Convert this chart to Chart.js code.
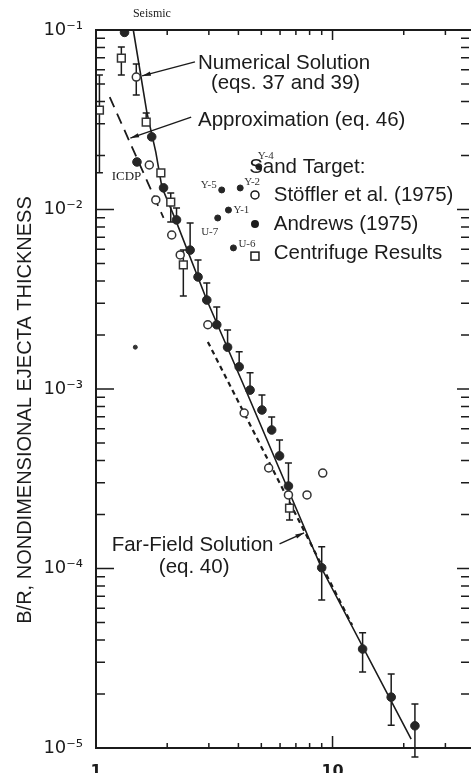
<!DOCTYPE html>
<html lang="en">
<head>
<meta charset="UTF-8">
<title>B/R, Nondimensional Ejecta Thickness</title>
<script src="https://cdn.jsdelivr.net/npm/chart.js"></script>
<style>
  html, body { margin: 0; padding: 0; background: #fff; }
  #wrap { width: 476px; height: 773px; position: relative; }
</style>
</head>
<body>
<div id="wrap"><canvas id="ejecta-chart"></canvas></div>
<script>
// Andrews (1975) - filled circles (upper error bars mostly)
var andrewsX  = [1.32, 1.49, 1.72, 1.93, 2.19, 2.50, 2.70, 2.94, 3.24, 3.60, 4.03, 4.48, 5.03, 5.53, 5.97, 6.51, 9.0, 13.4, 17.7, 22.3];
var andrewsY  = [0.097, 0.0184, 0.0254, 0.0132, 0.00875, 0.00594, 0.00421, 0.00313, 0.00228, 0.00171, 0.00133, 0.000986, 0.000764, 0.000591, 0.000424, 0.000288, 0.000101, 0.0000356, 0.0000192, 0.0000133];
var andrewsHi = [null, null, null, null, 0.0102, 0.00841, 0.00524, 0.0039, 0.00286, 0.00213, 0.00161, 0.00123, 0.000927, 0.000699, 0.00052, 0.000387, 0.000132, 0.0000438, 0.0000258, 0.0000176];
var andrewsLo = [null, null, null, null, null, null, null, null, null, null, null, null, null, null, null, null, 0.0000668, 0.0000265, 0.0000134, 0.0000089];

// labelled Andrews shots
var clusterNames = ['U-7', 'Y-5', 'Y-1', 'U-6', 'Y-2', 'Y-4'];
var clusterX = [3.27, 3.40, 3.63, 3.81, 4.07, 4.88];
var clusterY = [0.00897, 0.01285, 0.00993, 0.00611, 0.01318, 0.0173];

// Stoffler et al. (1975) - open circles
var stofflerX  = [1.48, 1.68, 1.79, 2.09, 2.27, 2.97, 4.23, 5.37, 6.51, 7.80, 9.09];
var stofflerY  = [0.0547, 0.0177, 0.0113, 0.00721, 0.00558, 0.00228, 0.000735, 0.000363, 0.000257, 0.000257, 0.00034];
var stofflerHi = [0.0647, null, null, null, null, null, null, null, null, null, null];
var stofflerLo = [0.0435, null, null, null, null, null, null, null, null, null, null];

// Centrifuge results - open squares
var centX  = [1.034, 1.28, 1.63, 1.88, 2.07, 2.34, 6.58];
var centY  = [0.0358, 0.0698, 0.0307, 0.016, 0.011, 0.00491, 0.000217];
var centHi = [0.0561, 0.0804, 0.0345, null, 0.01236, 0.00594, 0.000257];
var centLo = [0.016, 0.0561, null, null, 0.00851, 0.0033, 0.000186];

// stray mark
var strayX = [1.466];
var strayY = [0.00171];

// curves
var numX = [1.438, 1.64, 1.79, 1.90, 2.17, 2.94, 4.35, 9.0, 21.5];
var numY = [0.1, 0.0349, 0.0209, 0.0133, 0.00875, 0.00313, 0.00095, 0.0001, 0.0000112];
var farX = [2.97, 12.1];
var farY = [0.00183, 0.0000484];
var approxX = [1.143, 1.93];
var approxY = [0.0423, 0.00897];

var xTickLabels = {1: '1', 10: '10'};
var sup = {'-': '\u207B', '0': '\u2070', '1': '\u00B9', '2': '\u00B2', '3': '\u00B3', '4': '\u2074', '5': '\u2075'};

function pts(xs, ys) {
    return xs.map(function (x, i) { return {x: x, y: ys[i]}; });
}
function isDecade(v) {
    var l = Math.log10(v);
    return Math.abs(l - Math.round(l)) < 1e-6;
}

var INK = '#1b1b1b';
var SANS = '"Liberation Sans", Arial, sans-serif';
var SERIF = '"Liberation Serif", serif';
var NOTE = '20.5px ' + SANS;

// text notes, anchored in data coordinates
var notes = [
    {t: 'Numerical Solution', x: 2.70, y: 0.0655, font: NOTE},
    {t: '(eqs. 37 and 39)', x: 3.06, y: 0.0507, font: NOTE},
    {t: 'Approximation (eq. 46)', x: 2.70, y: 0.0315, font: NOTE},
    {t: 'Sand Target:', x: 4.44, y: 0.01725, font: NOTE},
    {t: 'Stöffler et al. (1975)', x: 5.64, y: 0.01205, font: NOTE},
    {t: 'Andrews (1975)', x: 5.64, y: 0.0083, font: NOTE},
    {t: 'Centrifuge Results', x: 5.64, y: 0.00573, font: NOTE},
    {t: 'Far-Field Solution', x: 1.165, y: 0.000135, font: NOTE},
    {t: '(eq. 40)', x: 1.843, y: 0.000102, font: NOTE},
    {t: 'ICDP', x: 1.165, y: 0.01517, font: '13px ' + SERIF},
    {t: 'Seismic', x: 1.724, y: 0.1227, font: '12px ' + SERIF, align: 'center'}
];
var arrows = [
    {from: [2.62, 0.0664], to: [1.566, 0.0555]},
    {from: [2.526, 0.0327], to: [1.397, 0.025]},
    {from: [5.97, 0.000137], to: [7.58, 0.000158]}
];
// label offsets in px for the labelled shots
var clusterOffsets = [[-8, 14, 'center'], [-5, -5, 'right'], [5, 0, 'left'], [5, -4, 'left'], [4, -6, 'left'], [-1, -11, 'left']];

var decor = {
    id: 'decor',
    beforeDatasetsDraw: function (chart) {
        var ctx = chart.ctx, sx = chart.scales.x, sy = chart.scales.y;
        function bars(xs, ys, his, los) {
            xs.forEach(function (x, i) {
                var X = sx.getPixelForValue(x), Y = sy.getPixelForValue(ys[i]);
                [his[i], los[i]].forEach(function (v) {
                    if (v == null) return;
                    var E = sy.getPixelForValue(v);
                    ctx.beginPath();
                    ctx.moveTo(X, Y); ctx.lineTo(X, E);
                    ctx.moveTo(X - 3.5, E); ctx.lineTo(X + 3.5, E);
                    ctx.stroke();
                });
            });
        }
        ctx.save();
        ctx.strokeStyle = INK;
        ctx.lineWidth = 1.5;
        bars(andrewsX, andrewsY, andrewsHi, andrewsLo);
        bars(stofflerX, stofflerY, stofflerHi, stofflerLo);
        bars(centX, centY, centHi, centLo);
        ctx.restore();
    },
    afterDraw: function (chart) {
        var ctx = chart.ctx, a = chart.chartArea, sx = chart.scales.x, sy = chart.scales.y;
        ctx.save();
        ctx.strokeStyle = INK;
        ctx.fillStyle = INK;

        // frame (right side is cropped in the original)
        ctx.lineWidth = 2;
        ctx.beginPath();
        ctx.moveTo(a.right + 2, a.top); ctx.lineTo(a.left, a.top);
        ctx.lineTo(a.left, a.bottom); ctx.lineTo(a.right + 2, a.bottom);
        ctx.stroke();

        // inward ticks
        ctx.lineWidth = 1.5;
        ctx.beginPath();
        for (var n = -5; n <= -1; n++) {
            for (var k = 1; k <= 9; k++) {
                var v = k * Math.pow(10, n);
                if (v > 0.1 + 1e-12) break;
                var Y = sy.getPixelForValue(v);
                var major = (k === 1);
                ctx.moveTo(a.left, Y); ctx.lineTo(a.left + (major ? 18 : 9), Y);
                ctx.moveTo(a.right, Y); ctx.lineTo(a.right - (major ? 12 : 8), Y);
            }
        }
        [2, 3, 4, 5, 6, 7, 8, 9, 10, 20, 30].forEach(function (x) {
            var X = sx.getPixelForValue(x);
            var len = (x === 10) ? 10 : 5;
            ctx.moveTo(X, a.top); ctx.lineTo(X, a.top + len);
            ctx.moveTo(X, a.bottom); ctx.lineTo(X, a.bottom - (x === 10 ? 12 : 5));
        });
        ctx.stroke();

        // leader arrows
        ctx.lineWidth = 1.4;
        arrows.forEach(function (ar) {
            var x0 = sx.getPixelForValue(ar.from[0]), y0 = sy.getPixelForValue(ar.from[1]);
            var x1 = sx.getPixelForValue(ar.to[0]), y1 = sy.getPixelForValue(ar.to[1]);
            ctx.beginPath(); ctx.moveTo(x0, y0); ctx.lineTo(x1, y1); ctx.stroke();
            var ang = Math.atan2(y1 - y0, x1 - x0);
            ctx.beginPath();
            ctx.moveTo(x1, y1);
            ctx.lineTo(x1 - 9 * Math.cos(ang - 0.25), y1 - 9 * Math.sin(ang - 0.25));
            ctx.lineTo(x1 - 9 * Math.cos(ang + 0.25), y1 - 9 * Math.sin(ang + 0.25));
            ctx.closePath(); ctx.fill();
        });

        // notes
        ctx.textBaseline = 'middle';
        notes.forEach(function (nt) {
            ctx.font = nt.font;
            ctx.textAlign = nt.align || 'left';
            ctx.fillText(nt.t, sx.getPixelForValue(nt.x), sy.getPixelForValue(nt.y));
        });

        // shot labels
        ctx.font = '11px ' + SERIF;
        ctx.fillStyle = '#333';
        clusterNames.forEach(function (name, i) {
            var o = clusterOffsets[i];
            ctx.textAlign = o[2];
            ctx.fillText(name, sx.getPixelForValue(clusterX[i]) + o[0], sy.getPixelForValue(clusterY[i]) + o[1]);
        });

        // legend symbols
        var lx = sx.getPixelForValue(4.70);
        ctx.lineWidth = 1.5;
        ctx.strokeStyle = INK;
        ctx.fillStyle = '#fff';
        ctx.beginPath(); ctx.arc(lx, sy.getPixelForValue(0.01205), 4, 0, Math.PI * 2); ctx.fill(); ctx.stroke();
        ctx.fillStyle = INK;
        ctx.beginPath(); ctx.arc(lx, sy.getPixelForValue(0.0083), 4, 0, Math.PI * 2); ctx.fill();
        var sqY = sy.getPixelForValue(0.0055);
        ctx.fillStyle = '#fff';
        ctx.fillRect(lx - 4, sqY - 4, 8, 8); ctx.strokeRect(lx - 4, sqY - 4, 8, 8);

        // y axis title
        ctx.fillStyle = INK;
        ctx.translate(25, 410);
        ctx.rotate(-Math.PI / 2);
        ctx.textAlign = 'center';
        ctx.font = '20px ' + SANS;
        ctx.fillText('B/R, NONDIMENSIONAL EJECTA THICKNESS', 0, 0);
        ctx.restore();
    }
};

var ctx = document.getElementById('ejecta-chart').getContext('2d');
var chart = new Chart(ctx, {
    type: 'scatter',
    data: {
        datasets: [
            {label: 'Stöffler et al. (1975)', data: pts(stofflerX, stofflerY), pointStyle: 'circle', pointRadius: 4,
             backgroundColor: '#fff', borderColor: '#333', borderWidth: 1.5},
            {label: 'Centrifuge Results', data: pts(centX, centY), pointStyle: 'rect', pointRadius: 5.5,
             backgroundColor: '#fff', borderColor: '#333', borderWidth: 1.5},
            {label: 'Andrews (1975)', data: pts(andrewsX, andrewsY), pointStyle: 'circle', pointRadius: 4.3,
             backgroundColor: '#262626', borderColor: '#262626', borderWidth: 1},
            {label: 'Andrews shots', data: pts(clusterX, clusterY), pointStyle: 'circle', pointRadius: 3,
             backgroundColor: '#262626', borderColor: '#262626', borderWidth: 1},
            {label: 'mark', data: pts(strayX, strayY), pointStyle: 'circle', pointRadius: 2,
             backgroundColor: '#333', borderColor: '#333'},
            {label: 'Numerical Solution', data: pts(numX, numY), showLine: true, pointRadius: 0,
             borderColor: INK, borderWidth: 1.6, tension: 0},
            {label: 'Approximation', data: pts(approxX, approxY), showLine: true, pointRadius: 0,
             borderColor: INK, borderWidth: 1.8, borderDash: [11, 7]},
            {label: 'Far-Field Solution', data: pts(farX, farY), showLine: true, pointRadius: 0,
             borderColor: INK, borderWidth: 2.2, borderDash: [5, 4]}
        ]
    },
    options: {
        responsive: true,
        maintainAspectRatio: false,
        animation: false,
        layout: {padding: {top: 30, right: 0, bottom: 0, left: 0}},
        plugins: {legend: {display: false}, tooltip: {enabled: false}},
        scales: {
            x: {
                type: 'logarithmic',
                min: 1,
                max: 37.75,
                grid: {display: false},
                border: {display: false},
                ticks: {
                    autoSkip: false,
                    maxRotation: 0,
                    padding: 6,
                    color: INK,
                    font: {family: 'DejaVu Sans', size: 16, weight: 'bold'},
                    callback: function (v) {
                        for (var key in xTickLabels) {
                            if (Math.abs(v - Number(key)) < 1e-6) return xTickLabels[key];
                        }
                        return '';
                    }
                },
                afterFit: function (s) { s.height = 25; }
            },
            y: {
                type: 'logarithmic',
                min: 1e-5,
                max: 0.1,
                grid: {display: false},
                border: {display: false},
                ticks: {
                    autoSkip: false,
                    padding: 5,
                    color: INK,
                    font: {family: 'DejaVu Sans', size: 18},
                    callback: function (v) {
                        if (!isDecade(v)) return '';
                        var e = String(Math.round(Math.log10(v)));
                        return '10' + e.split('').map(function (c) { return sup[c]; }).join('');
                    }
                },
                afterFit: function (s) { s.width = 96; }
            }
        }
    },
    plugins: [decor]
});
</script>
</body>
</html>
